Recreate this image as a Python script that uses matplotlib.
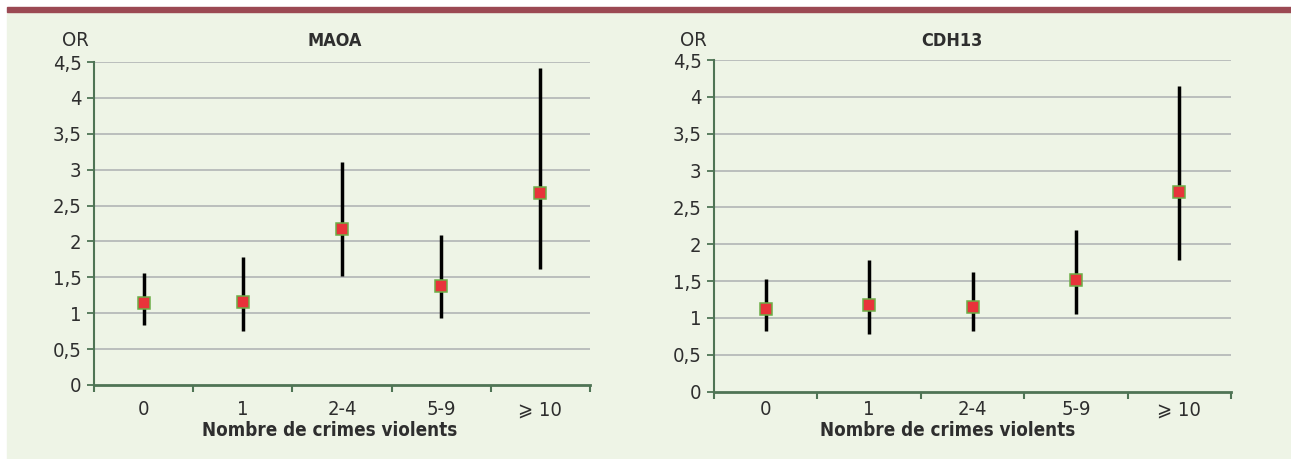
import matplotlib
matplotlib.use("Agg")
import matplotlib.pyplot as plt
from matplotlib.patches import Rectangle
from matplotlib.ticker import FixedLocator, NullFormatter

plt.rcParams["font.family"] = ["Liberation Sans Narrow", "DejaVu Sans"]
plt.rcParams["font.stretch"] = "condensed"

categories = ["0", "1", "2-4", "5-9", "\u2a7e 10"]
yticks = [0, 0.5, 1, 1.5, 2, 2.5, 3, 3.5, 4, 4.5]
ytick_labels = ["0", "0,5", "1", "1,5", "2", "2,5", "3", "3,5", "4", "4,5"]

maoa_or = [1.14, 1.15, 2.18, 1.38, 2.67]
maoa_lo = [0.83, 0.75, 1.52, 0.93, 1.62]
maoa_hi = [1.56, 1.79, 3.11, 2.09, 4.42]

cdh13_or = [1.12, 1.18, 1.15, 1.51, 2.71]
cdh13_lo = [0.83, 0.78, 0.83, 1.05, 1.79]
cdh13_hi = [1.53, 1.78, 1.62, 2.19, 4.15]

W, H = 1291, 459
BG = "#eef4e6"; AX = "#4f7455"; GRID = "#b1b5b5"; TXT = "#2e2e2e"

fig = plt.figure(figsize=(W/100, H/100), dpi=100)
fig.patches.append(Rectangle((7/W, 0), 1, 1-12/H, transform=fig.transFigure, color=BG, zorder=-10))
fig.patches.append(Rectangle((7/W, 1-12/H), 1, 5/H, transform=fig.transFigure, color="#9b4953", zorder=-10))

def px(x0, x1, ytop, ybot):
    return [x0/W, 1-ybot/H, (x1-x0)/W, (ybot-ytop)/H]

def panel(rect, title, title_x, or_x, lab_x, lab_pad, orv, lo, hi):
    ax = fig.add_axes(rect)
    ax.set_facecolor("none")
    n = len(categories)
    xs = [i + 0.5 for i in range(n)]
    ax.set_xlim(0, n); ax.set_ylim(0, 4.5)
    for y in yticks[1:]:
        ax.axhline(y, color=GRID, lw=1.2, zorder=1)
    ax.vlines(xs, lo, hi, color="black", lw=2.5, zorder=3)
    ax.plot(xs, orv, ls="none", marker="s", ms=8.5, mfc="#e8333a", mec="#6cae47", mew=1.1, zorder=4)
    for s in ["top", "right"]:
        ax.spines[s].set_visible(False)
    ax.spines["left"].set_color(AX); ax.spines["left"].set_linewidth(1.5)
    ax.spines["bottom"].set_color(AX); ax.spines["bottom"].set_linewidth(2.0)
    ax.set_yticks(yticks)
    ax.set_yticklabels(ytick_labels)
    ax.tick_params(axis="y", length=5, width=1.3, color=AX, pad=4, labelsize=14.5, labelcolor=TXT)
    ax.xaxis.set_major_locator(FixedLocator(list(range(n + 1))))
    ax.xaxis.set_major_formatter(NullFormatter())
    ax.xaxis.set_minor_locator(FixedLocator(xs))
    ax.set_xticklabels(categories, minor=True)
    ax.tick_params(axis="x", which="major", length=5, width=1.5, color=AX)
    ax.tick_params(axis="x", which="minor", length=0, pad=lab_pad, labelsize=14.5, labelcolor=TXT)
    ax.set_xlabel("Nombre de crimes violents", fontsize=13.5, fontweight="bold", color=TXT, va="center")
    ax.xaxis.set_label_coords(lab_x/W, 1-431/H, transform=fig.transFigure)
    fig.text(title_x/W, 1-41/H, title, ha="center", va="center", fontsize=13, fontweight="bold", color=TXT)
    fig.text(or_x/W, 1-41/H, "OR", ha="center", va="center", fontsize=14.5, color=TXT)
    return ax

panel(px(94, 590, 62, 385), "MAOA", 335, 75, 330, 11, maoa_or, maoa_lo, maoa_hi)
panel(px(714, 1231, 60, 391.7), "CDH13", 952, 693, 948, 6, cdh13_or, cdh13_lo, cdh13_hi)

fig.savefig("out.png", dpi=100, facecolor="white")
